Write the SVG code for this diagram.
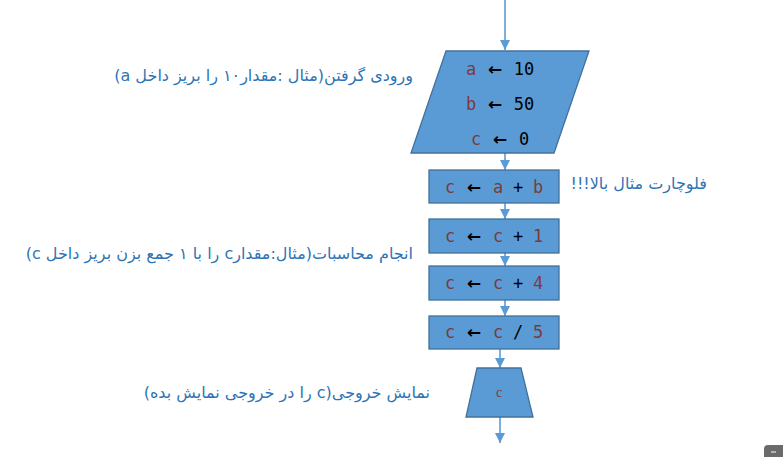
<svg xmlns="http://www.w3.org/2000/svg" width="783" height="457" viewBox="0 0 783 457">
<style>
.shape{fill:#5b9bd5;stroke:#41719c;stroke-width:1.3}
.conn{stroke:#5b9bd5;stroke-width:1.6;fill:none}
.code{font-family:"DejaVu Sans Mono","Liberation Mono",monospace;font-size:17px;text-anchor:middle}
.v{fill:#7b3a3a}
.k{fill:#000}
.ar{font-family:"DejaVu Sans",sans-serif;font-size:17px;font-weight:bold;fill:#000}
.lbl{font-family:"DejaVu Sans","Noto Sans",sans-serif;font-size:16px;fill:#2e74b5;direction:rtl;text-anchor:start}
</style>
<defs>
<marker id="ah" viewBox="0 0 10 10" refX="10" refY="5" markerWidth="10" markerHeight="10" markerUnits="userSpaceOnUse" orient="auto">
<path d="M0,0 L10,5 L0,10 Z" fill="#5b9bd5"/>
</marker>
</defs>
<rect width="783" height="457" fill="#fff"/>
<g id="connectors">
<line class="conn" x1="505" y1="0" x2="505" y2="50" marker-end="url(#ah)"/>
<line class="conn" x1="505" y1="153" x2="505" y2="170" marker-end="url(#ah)"/>
<line class="conn" x1="505" y1="203" x2="505" y2="219" marker-end="url(#ah)"/>
<line class="conn" x1="505" y1="253" x2="505" y2="266" marker-end="url(#ah)"/>
<line class="conn" x1="505" y1="300" x2="505" y2="316" marker-end="url(#ah)"/>
<line class="conn" x1="500" y1="349" x2="500" y2="368" marker-end="url(#ah)"/>
<line class="conn" x1="500" y1="417" x2="500" y2="443" marker-end="url(#ah)"/>
</g>
<g id="input">
<polygon class="shape" points="446,51 589,51 554,153 411,153"/>
<text class="code" y="75"><tspan class="v" x="471">a</tspan><tspan class="ar" x="495">←</tspan><tspan class="k" x="524">10</tspan></text>
<text class="code" y="110"><tspan class="v" x="471">b</tspan><tspan class="ar" x="495">←</tspan><tspan class="k" x="524">50</tspan></text>
<text class="code" y="145"><tspan class="v" x="476">c</tspan><tspan class="ar" x="500">←</tspan><tspan class="k" x="524">0</tspan></text>
</g>
<g id="step1">
<rect class="shape" x="429" y="170" width="130" height="33"/>
<text class="code" y="193"><tspan class="v" x="450">c</tspan><tspan class="ar" x="474">←</tspan><tspan class="v" x="498">a</tspan><tspan class="k" x="518">+</tspan><tspan class="v" x="538">b</tspan></text>
</g>
<g id="step2">
<rect class="shape" x="429" y="219" width="130" height="34"/>
<text class="code" y="242"><tspan class="v" x="450">c</tspan><tspan class="ar" x="474">←</tspan><tspan class="v" x="498">c</tspan><tspan class="k" x="518">+</tspan><tspan class="v" x="538">1</tspan></text>
</g>
<g id="step3">
<rect class="shape" x="429" y="266" width="130" height="34"/>
<text class="code" y="289"><tspan class="v" x="450">c</tspan><tspan class="ar" x="474">←</tspan><tspan class="v" x="498">c</tspan><tspan class="k" x="518">+</tspan><tspan class="v" x="538">4</tspan></text>
</g>
<g id="step4">
<rect class="shape" x="429" y="316" width="130" height="33"/>
<text class="code" y="338"><tspan class="v" x="450">c</tspan><tspan class="ar" x="474">←</tspan><tspan class="v" x="498">c</tspan><tspan class="k" x="518">/</tspan><tspan class="v" x="538">5</tspan></text>
</g>
<g id="output">
<polygon class="shape" points="477,368 521,368 533,417 466,417"/>
<text x="499" y="397" font-family="Liberation Serif, serif" font-size="14" fill="#7b3a3a" text-anchor="middle">c</text>
</g>
<g id="labels">
<text class="lbl" x="413" y="81">ورودی گرفتن(مثال :مقدار۱۰ را بریز داخل a)</text>
<text class="lbl" x="707" y="189">فلوچارت مثال بالا!!!</text>
<text class="lbl" x="413" y="259">انجام محاسبات(مثال:مقدارc را با ۱ جمع بزن بریز داخل c)</text>
<text class="lbl" x="430" y="398">نمایش خروجی(c را در خروجی نمایش بده)</text>
</g>
<g id="corner">
<path d="M764,449 Q764,445 768,445 L783,445 L783,457 L764,457 Z" fill="#6b6b6b"/>
<line x1="771" y1="452" x2="776" y2="452" stroke="#fff" stroke-width="1"/>
</g>
</svg>
